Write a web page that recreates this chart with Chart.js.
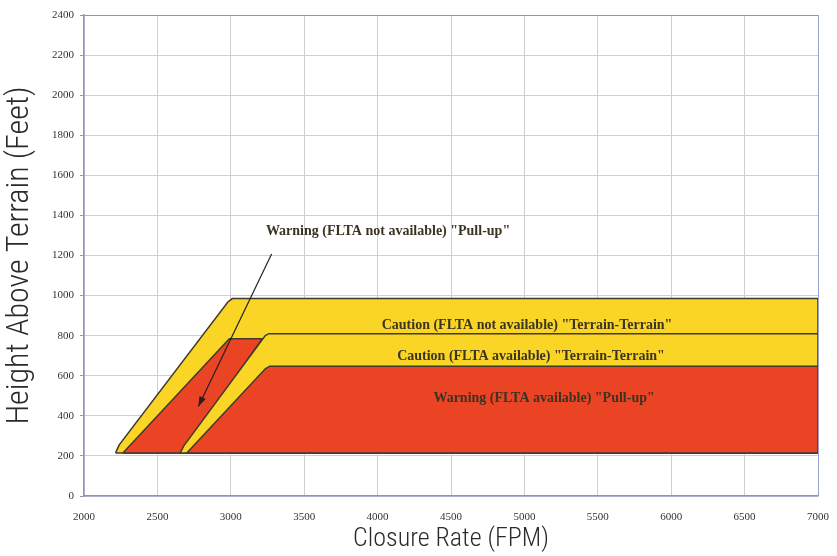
<!DOCTYPE html>
<html>
<head>
<meta charset="utf-8">
<script src="https://cdn.jsdelivr.net/npm/chart.js@4/dist/chart.umd.min.js"></script>
<style>
  body { margin: 0; background: #fff; }
  canvas { display: block; }
</style>
</head>
<body>
<canvas id="myChart" width="837" height="556"></canvas>
<script>
// zone outlines (x = closure rate FPM, y = height ft)
var cautionNoFltaX = [2215, 2240, 2980, 3010, 7000, 7000, 2215];
var cautionNoFltaY = [215, 255, 968, 985, 985, 215, 215];
var warningNoFltaX = [2265, 2990, 3215, 2665, 2265];
var warningNoFltaY = [215, 785, 785, 215, 215];
var cautionFltaX = [2655, 2680, 3235, 3260, 7000, 7000, 2655];
var cautionFltaY = [215, 250, 800, 810, 810, 215, 215];
var warningFltaX = [2700, 3235, 3265, 7000, 7000, 2700];
var warningFltaY = [215, 635, 648, 648, 215, 215];
var arrowX = [3278, 2779];
var arrowY = [1208, 446];

var zoneLabels = [
    'Warning (FLTA not available) "Pull-up"',
    'Caution (FLTA not available) "Terrain-Terrain"',
    'Caution (FLTA available) "Terrain-Terrain"',
    'Warning (FLTA available) "Pull-up"'
];
var zoneLabelX = [4071, 5018, 5045, 5134];
var zoneLabelY = [1319, 853, 695, 487];

var yellow = '#FBD526';
var red = '#EA4424';
var edge = '#3e3a2c';

function pts(xs, ys) {
    var out = [];
    for (var i = 0; i < xs.length; i++) {
        out.push({x: xs[i], y: ys[i]});
    }
    return out;
}

function zone(xs, ys, color, order) {
    return {
        data: pts(xs, ys),
        backgroundColor: color,
        borderColor: edge,
        borderWidth: 1.5,
        pointRadius: 0,
        tension: 0,
        fill: 'shape',
        order: order
    };
}

var labelPlugin = {
    id: 'zoneText',
    afterDatasetsDraw: function(chart) {
        var c = chart.ctx;
        var sx = chart.scales.x, sy = chart.scales.y;
        c.save();
        // arrow head at the end of the pointer line
        var meta = chart.getDatasetMeta(4);
        var a = meta.data[0], b = meta.data[1];
        var ang = Math.atan2(b.y - a.y, b.x - a.x);
        c.fillStyle = '#222';
        c.beginPath();
        c.moveTo(b.x, b.y);
        c.lineTo(b.x - 10 * Math.cos(ang) + 3.5 * Math.sin(ang), b.y - 10 * Math.sin(ang) - 3.5 * Math.cos(ang));
        c.lineTo(b.x - 10 * Math.cos(ang) - 3.5 * Math.sin(ang), b.y - 10 * Math.sin(ang) + 3.5 * Math.cos(ang));
        c.closePath();
        c.fill();

        c.font = 'bold 14px "Liberation Serif", "Times New Roman", serif';
        c.fillStyle = '#3a3422';
        c.textAlign = 'center';
        c.textBaseline = 'middle';
        for (var i = 0; i < zoneLabels.length; i++) {
            c.fillText(zoneLabels[i], sx.getPixelForValue(zoneLabelX[i]), sy.getPixelForValue(zoneLabelY[i]));
        }
        c.restore();
    }
};

var tickFont = {family: '"Liberation Serif", "Times New Roman", serif', size: 11};
var titleFamily = '"Roboto Condensed", "Liberation Sans Narrow", Roboto, sans-serif';

var ctx = document.getElementById('myChart').getContext('2d');
var chart = new Chart(ctx, {
    type: 'line',
    data: {
        datasets: [
            zone(cautionNoFltaX, cautionNoFltaY, yellow, 5),
            zone(warningNoFltaX, warningNoFltaY, red, 4),
            zone(cautionFltaX, cautionFltaY, yellow, 3),
            zone(warningFltaX, warningFltaY, red, 2),
            {
                data: pts(arrowX, arrowY),
                borderColor: '#222',
                borderWidth: 1.2,
                pointRadius: 0,
                fill: false,
                order: 1
            }
        ]
    },
    options: {
        responsive: false,
        animation: false,
        layout: {
            padding: {top: 15, right: 19, left: 0, bottom: 0}
        },
        plugins: {
            legend: {display: false},
            tooltip: {enabled: false}
        },
        scales: {
            x: {
                type: 'linear',
                min: 2000,
                max: 7000,
                ticks: {
                    stepSize: 500, font: tickFont, color: '#333', padding: 7, maxRotation: 0,
                    callback: function(v) { return String(v); }
                },
                grid: {
                    color: function(c) { return c.tick && c.tick.value === 7000 ? '#9aa2cf' : '#cfcfcf'; },
                    tickLength: 8,
                    tickColor: 'rgba(0,0,0,0)'
                },
                border: {color: '#8891c9', width: 1.5},
                title: {
                    display: true, text: 'Closure Rate (FPM)', color: '#2a2a2a',
                    font: {family: titleFamily, size: 26, weight: '300'},
                    padding: {top: 0, bottom: 1}
                },
                afterFit: function(s) { s.height = 60; }
            },
            y: {
                min: 0,
                max: 2400,
                ticks: {
                    stepSize: 200, font: tickFont, color: '#333', padding: 6,
                    callback: function(v) { return String(v); }
                },
                grid: {
                    color: function(c) { return c.tick && c.tick.value === 2400 ? '#8891c9' : '#cfcfcf'; },
                    tickLength: 4,
                    tickColor: '#999'
                },
                border: {color: '#8891c9', width: 1.5},
                title: {
                    display: true, text: 'Height Above Terrain (Feet)', color: '#2a2a2a',
                    font: {family: titleFamily, size: 32, weight: '300'},
                    padding: {top: 1, bottom: 0}
                },
                afterFit: function(s) { s.width = 84; }
            }
        }
    },
    plugins: [labelPlugin]
});
</script>
</body>
</html>
